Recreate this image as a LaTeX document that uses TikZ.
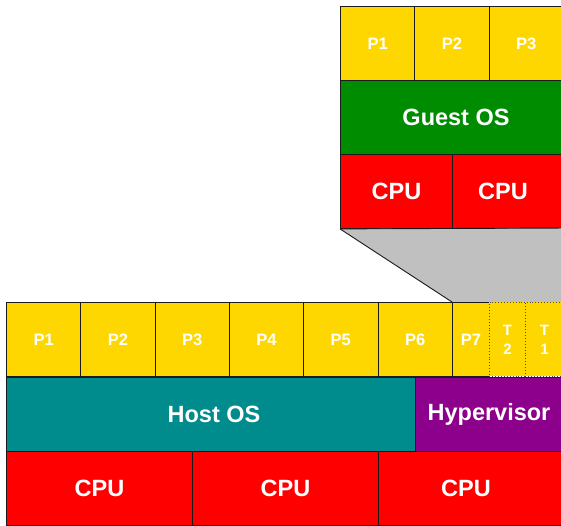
\documentclass[tikz,border=0pt]{standalone}
\usepackage{fontspec}
\setmainfont{Liberation Sans}
\definecolor{procyellow}{HTML}{FFD700}
\definecolor{guestgreen}{HTML}{008C00}
\definecolor{cpured}{HTML}{FF0000}
\definecolor{hostteal}{HTML}{008C8C}
\definecolor{hvpurple}{HTML}{8C008C}
\definecolor{zoomgray}{HTML}{C0C0C0}
\definecolor{edge}{HTML}{1A1A1A}
\tikzset{
  bigtext/.style={text=white, font=\bfseries\fontsize{23.5}{27}\selectfont},
  cell/.style={draw=edge, line width=0.9pt, anchor=north west, inner sep=0pt, bigtext},
  proc/.style={cell, fill=procyellow, font=\bfseries\fontsize{16.5}{19}\selectfont},
  thread/.style={proc, dotted, draw=black!70, align=center,
    font=\bfseries\fontsize{15}{19}\selectfont},
  cpu/.style={cell, fill=cpured},
  tag/.style={bigtext, inner sep=0pt},
}
\newcommand{\cellbox}[6]{% style, name, x, y, width, text
  \node[#1, minimum width=#5pt, minimum height=74pt] (#2) at (#3,#4) {#6};}
\begin{document}
\begin{tikzpicture}[x=1pt, y=-1pt]
\useasboundingbox (0,0) rectangle (561,525);
\clip (0,0) rectangle (561,525);

% guest machine (cells on the right run past the page edge)
\cellbox{proc}{gp1}{340}{6}{74.3}{P1}
\cellbox{proc}{gp2}{414.3}{6}{74.3}{P2}
\cellbox{proc}{gp3}{488.6}{6}{74.3}{P3}
\cellbox{cell, fill=guestgreen}{guestos}{340}{80}{240}{}
\node[tag] (guestlbl) at (456,117) {Guest OS};
\cellbox{cpu}{gcpu1}{340}{154}{112}{CPU}
\cellbox{cpu}{gcpu2}{452}{154}{120}{}
\node[tag] (gcpu2lbl) at (503,191) {CPU};

% zoom wedge from the guest machine down to the thread slots
\coordinate (wl) at (gcpu1.south west);
\coordinate (wr) at (452,302);
\fill[zoomgray] (wl) -- (570,228) -- (570,302) -- (wr) -- cycle;
\draw[edge, line width=0.9pt] (wl) -- (wr);
\draw[edge, line width=0.9pt] (wl) -- (570,228);

% host machine
\cellbox{proc}{p1}{6}{302}{74.3}{P1}
\cellbox{proc}{p2}{80.3}{302}{74.3}{P2}
\cellbox{proc}{p3}{154.6}{302}{74.3}{P3}
\cellbox{proc}{p4}{228.9}{302}{74.3}{P4}
\cellbox{proc}{p5}{303.2}{302}{74.3}{P5}
\cellbox{proc}{p6}{377.5}{302}{74.5}{P6}
\cellbox{proc}{p7}{452}{302}{37}{P7}
\cellbox{thread}{t2}{489}{302}{36}{T\\2}
\cellbox{thread}{t1}{525}{302}{38}{T\\1}
\cellbox{cell, fill=hostteal}{hostos}{6}{377}{409}{}
\node[tag] (hostlbl) at (214,414) {Host OS};
\cellbox{cell, fill=hvpurple}{hyper}{415}{377}{160}{}
\node[tag] (hyperlbl) at (489,414) {Hypervisor};
\cellbox{cpu}{cpu1}{6}{451}{186}{CPU}
\cellbox{cpu}{cpu2}{192}{451}{186}{CPU}
\cellbox{cpu}{cpu3}{378}{451}{190}{}
\node[tag] (cpu3lbl) at (466,488) {CPU};
\end{tikzpicture}
\end{document}
